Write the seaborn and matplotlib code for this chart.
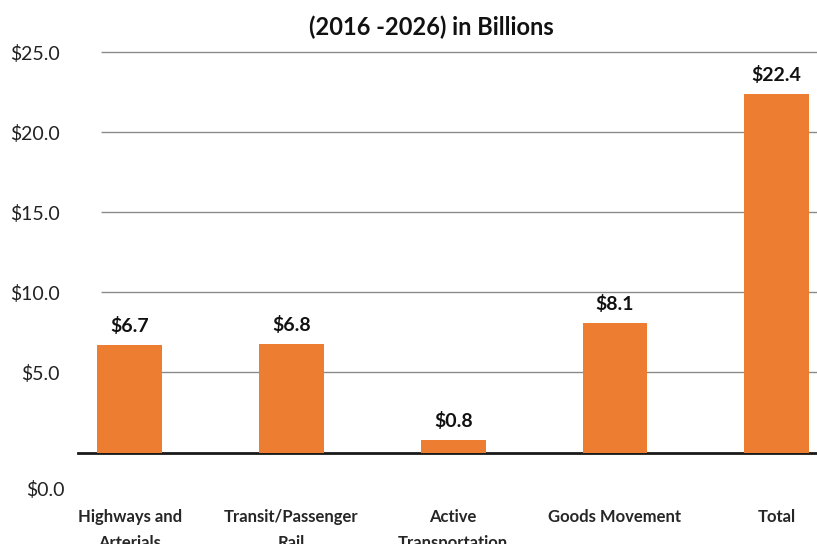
import matplotlib
matplotlib.use("Agg")
import matplotlib.pyplot as plt
import seaborn as sns
import pandas as pd

categories = ["Highways and\nArterials", "Transit/Passenger\nRail", "Active\nTransportation",
              "Goods Movement", "Total"]
values = [6.7, 6.8, 0.8, 8.1, 22.4]
value_labels = ["$6.7", "$6.8", "$0.8", "$8.1", "$22.4"]
y_ticks = [5, 10, 15, 20, 25]

df = pd.DataFrame({"category": categories, "value": values})

sns.set_style("white")
plt.rcParams["font.family"] = ["Lato", "DejaVu Sans"]

fig = plt.figure(figsize=(8.17, 5.44), dpi=100)
ax = fig.add_axes([78 / 817, 1 - 452.5 / 544, 1 - 78 / 817, (452.5 - 52.3) / 544])

sns.barplot(data=df, x="category", y="value", color="#ED7D31", saturation=1,
            width=0.4, linewidth=0, ax=ax, zorder=3)

ax.set_xlim(-0.32, 4.25)
ax.set_ylim(0, 25)

# gridlines start a bit right of the baseline, as in the original
ax.hlines(y_ticks, -0.18, 4.25, colors="#8a8a8a", linewidth=1, zorder=1, clip_on=False)

for s in ["top", "right", "left"]:
    ax.spines[s].set_visible(False)
ax.spines["bottom"].set_linewidth(2)
ax.spines["bottom"].set_color("#1a1a1a")

ax.set_yticks(y_ticks)
ax.set_yticklabels([f"${v:.1f}" for v in y_ticks], fontsize=14, color="#222222")
ax.tick_params(axis="y", length=0, pad=13)
ax.annotate("$0.0", xy=(0, 0), xycoords=("axes fraction", "data"),
            xytext=(-13, -38), textcoords="offset pixels",
            ha="right", va="center", fontsize=14, color="#222222")

ax.set_xticks(range(len(categories)))
ax.set_xticklabels(categories, fontsize=12, fontweight="bold", va="top", linespacing=1.75)
ax.tick_params(axis="x", length=0, pad=41)
ax.set_xlabel("")
ax.set_ylabel("")

for i, (v, lab) in enumerate(zip(values, value_labels)):
    ax.annotate(lab, xy=(i, v), xytext=(0, 10), textcoords="offset pixels",
                ha="center", va="bottom", fontsize=14, fontweight="bold", color="#111111")

fig.text(431 / 817, 1 - 27 / 544, "(2016 -2026) in Billions", ha="center", va="center",
         fontsize=17, fontweight="bold", color="#111111")

fig.savefig("out.png", dpi=100)
